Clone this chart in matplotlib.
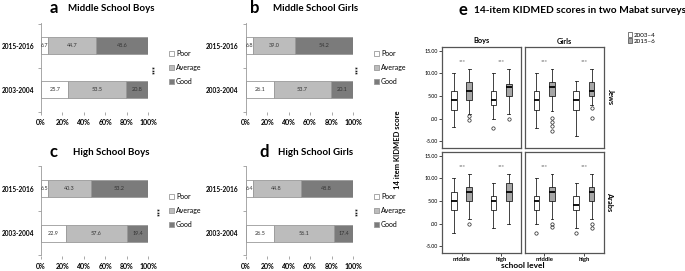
import matplotlib
matplotlib.use("Agg")
import matplotlib.pyplot as plt
from matplotlib.patches import Patch

plt.rcParams['font.family'] = ['Lato', 'DejaVu Sans']

# ---------------- data: stacked bar panels ----------------
years = ["2003-2004", "2015-2016"]
categories = ["Poor", "Average", "Good"]
mid_boys_poor = [25.7, 6.7]
mid_boys_avg = [53.5, 44.7]
mid_boys_good = [20.8, 48.6]
mid_girls_poor = [26.1, 6.8]
mid_girls_avg = [53.7, 39.0]
mid_girls_good = [20.1, 54.2]
high_boys_poor = [22.9, 6.5]
high_boys_avg = [57.6, 40.3]
high_boys_good = [19.4, 53.2]
high_girls_poor = [26.5, 6.4]
high_girls_avg = [56.1, 44.8]
high_girls_good = [17.4, 48.8]
pct_ticks = [0, 20, 40, 60, 80, 100]

# ---------------- data: box plot panel (whislo, q1, med, q3, whishi, fliers) ----------------
levels = ["middle", "high"]
surveys = ["2003\u20134", "2015\u20136"]
jews_boys_middle_0304 = [-1.9, 1.8, 4.0, 6.0, 10.0, []]
jews_boys_middle_1516 = [1.1, 4.0, 6.0, 8.0, 11.0, [0.5, -0.3]]
jews_boys_high_0304 = [0.0, 3.0, 4.0, 6.0, 10.0, [-2.0]]
jews_boys_high_1516 = [0.9, 5.0, 7.0, 7.7, 11.0, [0.0]]
jews_girls_middle_0304 = [-2.0, 2.0, 4.0, 6.0, 10.0, []]
jews_girls_middle_1516 = [1.6, 5.0, 7.0, 8.0, 11.0, [0.2, -0.8, -1.7, -2.8]]
jews_girls_high_0304 = [-3.9, 2.0, 4.0, 6.0, 8.2, []]
jews_girls_high_1516 = [3.0, 5.0, 6.0, 8.0, 11.0, [2.3, 0.2]]
arabs_boys_middle_0304 = [-2.0, 3.0, 5.0, 7.0, 10.0, []]
arabs_boys_middle_1516 = [1.0, 5.0, 7.0, 8.0, 11.0, [0.0]]
arabs_boys_high_0304 = [-1.0, 3.0, 5.0, 6.0, 9.0, []]
arabs_boys_high_1516 = [0.0, 5.0, 7.0, 9.0, 11.0, []]
arabs_girls_middle_0304 = [0.0, 3.0, 5.0, 6.0, 10.0, [-2.0]]
arabs_girls_middle_1516 = [1.0, 5.0, 7.0, 8.0, 11.0, [0.0, -0.8]]
arabs_girls_high_0304 = [-1.0, 3.0, 4.0, 6.0, 9.0, [-2.0]]
arabs_girls_high_1516 = [1.0, 5.0, 7.0, 8.0, 11.0, [0.0, -1.0]]
y_ticks_e = [-5, 0, 5, 10, 15]
y_ticklabels_e = ["-5.00", ".00", "5.00", "10.00", "15.00"]
sig_label = "***"

W, H = 685, 271
fig = plt.figure(figsize=(W / 100, H / 100), dpi=100)


def box(l, t, r, b):
    return [l / W, 1 - b / H, (r - l) / W, (b - t) / H]


def ftext(x, y, s, **kw):
    fig.text(x / W, 1 - y / H, s, **kw)


bar_colors = ["#ffffff", "#bcbcbc", "#7b7b7b"]
edge = "#9a9a9a"


def bar_panel(rect, poor, avg, good, letter, title, lx, tx, ty, legx, stary):
    ax = fig.add_axes(box(*rect))
    ypos = [0, 1]
    left = [0, 0]
    handles = []
    for vals, col, name in zip([poor, avg, good], bar_colors, categories):
        ax.barh(ypos, vals, left=left, height=0.39, color=col,
                edgecolor=edge, linewidth=0.6, label=name)
        for y, l0, v in zip(ypos, left, vals):
            ax.text(l0 + v / 2, y, f"{v:.1f}", ha="center", va="center",
                    fontsize=4, color="#333333")
        left = [a + b for a, b in zip(left, vals)]
        handles.append(Patch(facecolor=col, edgecolor=edge, linewidth=0.6, label=name))
    ax.set_xlim(0, 100)
    ax.set_ylim(-0.5, 1.52)
    ax.set_yticks(ypos)
    ax.set_yticklabels(years, fontsize=4.7, fontweight="bold")
    ax.set_yticks([-0.5, 0.5, 1.5], minor=True)
    ax.tick_params(axis="y", which="major", length=0, pad=5)
    ax.tick_params(axis="y", which="minor", length=2, color=edge, width=0.6)
    ax.set_xticks(pct_ticks)
    ax.set_xticklabels([f"{p}%" for p in pct_ticks], fontsize=5, fontweight="bold")
    ax.tick_params(axis="x", length=2, color=edge, width=0.6, pad=3.5)
    for s in ["top", "right", "bottom"]:
        ax.spines[s].set_visible(False)
    ax.spines["left"].set_color(edge)
    ax.spines["left"].set_linewidth(0.6)
    ax.legend(handles=handles, loc="center left", bbox_to_anchor=legx,
              frameon=False, fontsize=5, handlelength=0.7, handleheight=0.7,
              handletextpad=0.3, labelspacing=1.0, borderaxespad=0)
    ftext(lx, ty, letter, fontsize=12, fontweight="bold", ha="center", va="center")
    ftext(tx, ty + 0.5, title, fontsize=7, fontweight="bold", ha="center", va="center")
    ftext(stary[0], stary[1], sig_label, fontsize=5, fontweight="bold",
          rotation=90, ha="center", va="center")
    return ax


bar_panel((41, 22.7, 148, 111.7), mid_boys_poor, mid_boys_avg, mid_boys_good,
          "a", "Middle School Boys", 54, 111.5, 8, (1.17, 0.5), (155, 69))
bar_panel((245.7, 22.7, 353, 111.7), mid_girls_poor, mid_girls_avg, mid_girls_good,
          "b", "Middle School Girls", 255, 316, 8, (1.17, 0.5), (358, 69))
bar_panel((41, 165.5, 148, 255.5), high_boys_poor, high_boys_avg, high_boys_good,
          "c", "High School Boys", 54, 111, 152, (1.17, 0.5), (160, 212))
bar_panel((245.7, 165.5, 353, 255.5), high_girls_poor, high_girls_avg, high_girls_good,
          "d", "High School Girls", 264, 316, 152, (1.17, 0.5), (358, 212))

# ---------------- panel e ----------------
box_fill = ["#ffffff", "#a6a6a6"]
panel_col = "#555555"


def stats(v, label):
    return dict(whislo=v[0], q1=v[1], med=v[2], q3=v[3], whishi=v[4],
                fliers=v[5], label=label)


def box_panel(rect, groups, show_y, show_x):
    ax = fig.add_axes(box(*rect))
    for gi, (g03, g15) in enumerate(groups):
        for k, (g, off) in enumerate(zip([g03, g15], [-0.2, 0.19])):
            ax.bxp([stats(g, levels[gi])], positions=[gi + 1 + off], widths=0.14,
                   patch_artist=True, showfliers=True, manage_ticks=False,
                   boxprops=dict(facecolor=box_fill[k], edgecolor="#222222", linewidth=0.6),
                   medianprops=dict(color="black", linewidth=1.3),
                   whiskerprops=dict(color="#222222", linewidth=0.6),
                   capprops=dict(color="#222222", linewidth=0.6),
                   capwidths=0.07,
                   flierprops=dict(marker="o", markersize=2.4, markerfacecolor="none",
                                   markeredgecolor="#222222", markeredgewidth=0.5))
        ax.text(gi + 1, 12.5, sig_label, fontsize=4, color="#555555",
                ha="center", va="center")
    ax.set_xlim(0.5, 2.5)
    ax.set_ylim(-6.5, 15.8)
    ax.set_yticks(y_ticks_e)
    if show_y:
        ax.set_yticklabels(y_ticklabels_e, fontsize=3.8)
        ax.tick_params(axis="y", length=2, width=0.5, pad=1)
    else:
        ax.tick_params(axis="y", length=0, labelleft=False)
    ax.set_xticks([1, 2])
    if show_x:
        ax.set_xticklabels(levels, fontsize=4.3, fontweight="bold")
        ax.tick_params(axis="x", length=2, width=0.5, pad=1)
    else:
        ax.tick_params(axis="x", length=0, labelbottom=False)
    for s in ax.spines.values():
        s.set_color(panel_col)
        s.set_linewidth(0.9)
    return ax


box_panel((442, 47, 521, 148),
          [(jews_boys_middle_0304, jews_boys_middle_1516), (jews_boys_high_0304, jews_boys_high_1516)],
          True, False)
box_panel((524.5, 47, 604, 148),
          [(jews_girls_middle_0304, jews_girls_middle_1516), (jews_girls_high_0304, jews_girls_high_1516)],
          False, False)
box_panel((442, 152, 521, 253),
          [(arabs_boys_middle_0304, arabs_boys_middle_1516), (arabs_boys_high_0304, arabs_boys_high_1516)],
          True, True)
box_panel((524.5, 152, 604, 253),
          [(arabs_girls_middle_0304, arabs_girls_middle_1516), (arabs_girls_high_0304, arabs_girls_high_1516)],
          False, True)

ftext(481.5, 41, "Boys", fontsize=5.3, fontweight="bold", ha="center", va="center")
ftext(564, 41, "Girls", fontsize=5.3, fontweight="bold", ha="center", va="center")
ftext(610, 97, "Jews", fontsize=5.3, fontweight="bold", rotation=270, ha="center", va="center")
ftext(610, 202, "Arabs", fontsize=5.3, fontweight="bold", rotation=270, ha="center", va="center")
ftext(398, 150, "14 item KIDMED score", fontsize=5.5, fontweight="bold", rotation=90,
      ha="center", va="center")
ftext(523, 266, "school level", fontsize=6, fontweight="bold", ha="center", va="center")
ftext(463, 10, "e", fontsize=12, fontweight="bold", ha="center", va="center")
ftext(580, 10.5, "14-item KIDMED scores in two Mabat surveys", fontsize=7.3,
      fontweight="bold", ha="center", va="center")

leg_handles = [Patch(facecolor=c, edgecolor="#444444", linewidth=0.5, label=s)
               for c, s in zip(box_fill, surveys)]
fig.legend(handles=leg_handles, loc="upper left", bbox_to_anchor=(628 / W, 1 - 32 / H),
           frameon=False, fontsize=4.5, handlelength=0.7, handleheight=0.8,
           handletextpad=0.2, labelspacing=0.1, borderaxespad=0, borderpad=0)

fig.savefig("out.png", dpi=100)
